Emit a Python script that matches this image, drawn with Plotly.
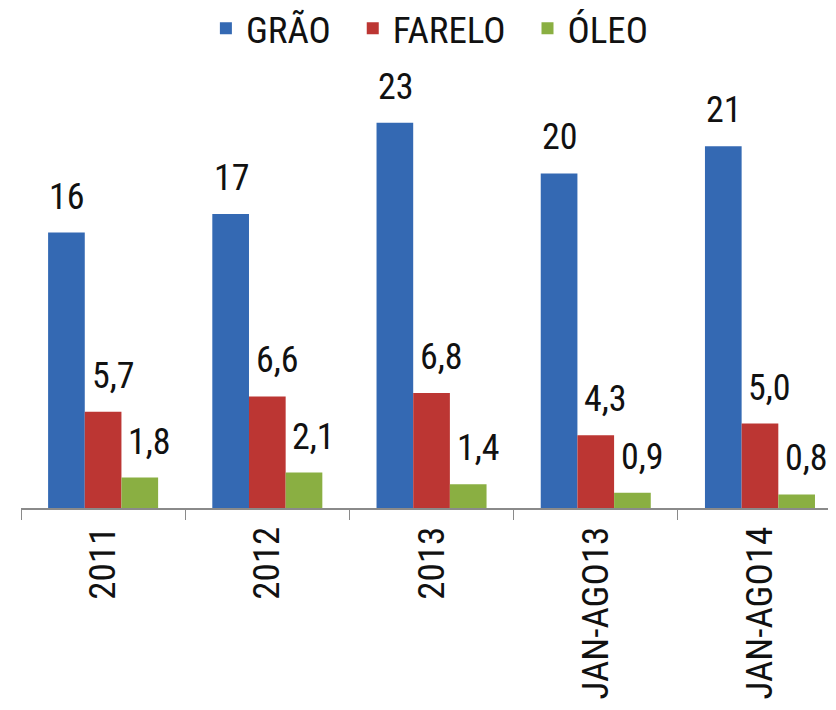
import plotly.graph_objects as go

categories = ["2011", "2012", "2013", "JAN-AGO13", "JAN-AGO14"]
series_names = ["GRÃO", "FARELO", "ÓLEO"]
grao = [16.3, 17.4, 22.8, 19.8, 21.4]
farelo = [5.7, 6.6, 6.8, 4.3, 5.0]
oleo = [1.8, 2.1, 1.4, 0.9, 0.8]
label_formats = ["{:.0f}", "{:.1f}", "{:.1f}"]

values = [grao, farelo, oleo]
colors = ["#3469B3", "#BC3633", "#8AAF42"]
narrow = "Liberation Sans Narrow, Roboto Condensed, Arial"

fig = go.Figure()
for name, vals, col in zip(series_names, values, colors):
    fig.add_trace(go.Bar(name=name + "\u00a0\u00a0", x=categories, y=vals,
                         marker_color=col, marker_line_width=0))

cat_px = 164.2
bar_px = cat_px * (1 - 0.33) / 3
label_dx = [1, 10, 10]
annotations = []
for i, (vals, fmt) in enumerate(zip(values, label_formats)):
    for ci, v in enumerate(vals):
        annotations.append(dict(
            x=ci, y=v, xref="x", yref="y",
            text=fmt.format(v).replace(".", ","),
            showarrow=False, yanchor="bottom", xanchor="center",
            xshift=(i - 1) * bar_px + label_dx[i], yshift=13,
            font=dict(family=narrow, size=36, color="#111111"),
        ))

fig.update_layout(
    width=828, height=702,
    margin=dict(l=13, r=0, t=52, b=202, autoexpand=False),
    paper_bgcolor="white", plot_bgcolor="white",
    barmode="group", bargap=0.33, bargroupgap=0,
    showlegend=True,
    legend=dict(orientation="h", x=0.239, xref="container", xanchor="left",
                y=1.139, yref="paper", yanchor="top",
                font=dict(family=narrow, size=37, color="#111111"),
                itemwidth=30, bgcolor="rgba(0,0,0,0)"),
    annotations=annotations,
    xaxis=dict(type="category", range=[-0.5, 4.463], automargin=False,
               showline=True, linecolor="#8A8A8A", linewidth=2,
               ticks="outside", tickson="boundaries", ticklen=10, tickcolor="#8A8A8A",
               tickwidth=1.2, tickangle=-90, ticklabelstandoff=2,
               tickfont=dict(family=narrow, size=37, color="#111111"),
               showgrid=False, zeroline=False),
    yaxis=dict(range=[0, 26.51], visible=False, showgrid=False, zeroline=False,
               automargin=False),
)

fig.write_html("out.html")
